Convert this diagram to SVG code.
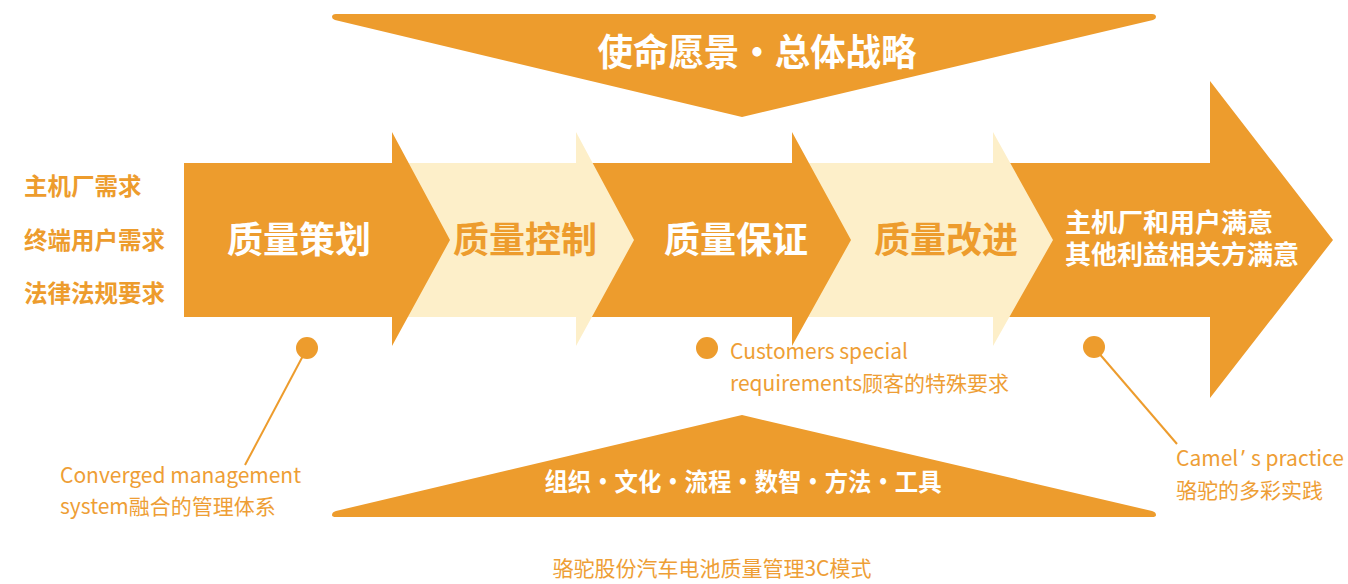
<svg xmlns="http://www.w3.org/2000/svg" width="1348" height="584" viewBox="0 0 1348 584">
  <style>
    text { font-family: "Noto Sans CJK SC", "Noto Sans", sans-serif; }
    .dark { fill: #ED9C2D; }
    .light { fill: #FDEFC9; }
    .wb { fill: #FFFFFF; font-weight: 700; }
    .ob { fill: #ED9C2D; font-weight: 700; }
    .note { fill: #EE9E35; font-weight: 400; font-size: 21px; }
    .lead { stroke: #ED9C2D; stroke-width: 2; fill: none; }
  </style>
  <rect width="1348" height="584" fill="#FFFFFF"/>

  <g id="banner-top">
    <path class="dark" d="M336,14 H1152 Q1156,14 1156,17 Q1156,19 1153,20 L742,117 L335,20 Q332,19 332,17 Q332,14 336,14 Z"/>
    <text class="wb" x="757" y="66" font-size="37" text-anchor="middle" textLength="319" lengthAdjust="spacingAndGlyphs">使命愿景·总体战略</text>
  </g>

  <g id="arrow-satisfaction">
    <path class="dark" d="M993,163 H1210 V81 L1333,240 L1210,398 V317 H993 Z"/>
    <text class="wb" x="1065" y="232" font-size="26">主机厂和用户满意</text>
    <text class="wb" x="1065" y="264" font-size="26">其他利益相关方满意</text>
  </g>
  <g id="arrow-improve">
    <path class="light" d="M792,163 H993 V132 L1053,240 L993,346 V317 H792 Z"/>
    <text class="ob" x="946" y="253" font-size="36" text-anchor="middle">质量改进</text>
  </g>
  <g id="arrow-assure">
    <path class="dark" d="M576,163 H792 V132 L851,240 L792,346 V317 H576 Z"/>
    <text class="wb" x="736" y="253" font-size="36" text-anchor="middle">质量保证</text>
  </g>
  <g id="arrow-control">
    <path class="light" d="M392,163 H576 V132 L634,240 L576,346 V317 H392 Z"/>
    <text class="ob" x="525" y="253" font-size="36" text-anchor="middle">质量控制</text>
  </g>
  <g id="arrow-plan">
    <path class="dark" d="M184,163 H392 V132 L450,240 L392,346 V317 H184 Z"/>
    <text class="wb" x="299" y="253" font-size="36" text-anchor="middle">质量策划</text>
  </g>

  <g id="inputs">
    <text class="ob" x="24" y="195" font-size="23.5">主机厂需求</text>
    <text class="ob" x="24" y="249" font-size="23.5">终端用户需求</text>
    <text class="ob" x="24" y="302" font-size="23.5">法律法规要求</text>
  </g>

  <g id="connectors">
    <line class="lead" x1="305" y1="352" x2="245" y2="465"/>
    <line class="lead" x1="1097" y1="351" x2="1177" y2="444"/>
  </g>

  <g id="note-converged">
    <circle class="dark" cx="307" cy="348" r="11"/>
    <text class="note" x="60" y="483" font-size="21.4">Converged management</text>
    <text class="note" x="60" y="514" font-size="21.4">system融合的管理体系</text>
  </g>
  <g id="note-customers">
    <circle class="dark" cx="707" cy="348" r="11"/>
    <text class="note" x="730" y="359">Customers special</text>
    <text class="note" x="730" y="391">requirements顾客的特殊要求</text>
  </g>
  <g id="note-camel">
    <circle class="dark" cx="1094" cy="347" r="11"/>
    <text class="note" x="1176" y="466">Camel<tspan font-family="Noto Sans" dx="3">’</tspan><tspan dx="6">s practice</tspan></text>
    <text class="note" x="1176" y="498">骆驼的多彩实践</text>
  </g>

  <g id="banner-bottom">
    <path class="dark" d="M742,415 L1152,511 Q1156,512 1156,515 Q1156,517 1152,517 H336 Q332,517 332,515 Q332,512 336,511 Z"/>
    <text class="wb" x="743" y="491" font-size="25" text-anchor="middle" textLength="397" lengthAdjust="spacingAndGlyphs">组织·文化·流程·数智·方法·工具</text>
  </g>

  <text class="note" x="712" y="576" font-size="21" text-anchor="middle">骆驼股份汽车电池质量管理3C模式</text>
</svg>
